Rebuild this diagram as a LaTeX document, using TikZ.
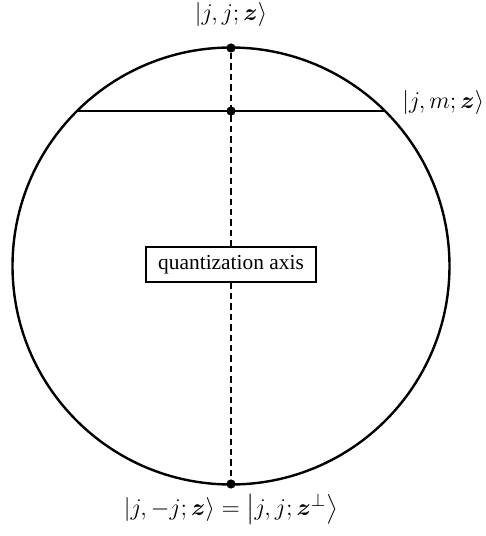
\documentclass[tikz,border=0pt]{standalone}
\usepackage{amsmath,amssymb}
\usepackage{fontspec}
\setmainfont{Liberation Serif}
\usetikzlibrary{positioning,calc}

\begin{document}
\begin{tikzpicture}[x=0.5pt,y=0.5pt]
    \tikzset{pt/.style={circle, fill=black, inner sep=0pt, minimum size=4.6pt},
             ket/.style={font=\fontsize{12.4}{14}\selectfont, inner sep=0.5pt},
             axis/.style={line width=0.8pt, dash pattern=on 3.2pt off 2pt}}
    \useasboundingbox (0,0) rectangle (486,536);
    % sphere
    \draw[line width=1.2pt] (231,270) circle[radius=218.5];
    \coordinate (ml) at ($(231,270)+(134.8:218.5)$);
    \coordinate (mr) at ($(231,270)+(45.2:218.5)$);
    \draw[line width=0.6pt] (ml) -- (mr);
    \node[pt] (top) at (231,488) {};
    \node[pt] (m)   at (231,425) {};
    \node[pt] (bot) at (231,52) {};
    \node[draw, fill=white, line width=0.6pt, minimum width=85pt, minimum height=17.5pt,
          font=\fontsize{10.7}{12}\selectfont] (qa) at (231,271.5) {quantization axis};
    \draw[axis] (top) -- (qa);
    \draw[axis] (qa) -- (bot);
    % states
    \node[ket] (jj)  at (231,521) {$|j,j;\boldsymbol{z}\rangle$};
    \node[ket, anchor=west] (jm) at (401,433) {$|j,m;\boldsymbol{z}\rangle$};
    \node[ket] (jmj) at (231,27)
      {$|j,-j;\boldsymbol{z}\rangle=\big|j,j;\boldsymbol{z}^{\perp}\big\rangle$};
\end{tikzpicture}
\end{document}
